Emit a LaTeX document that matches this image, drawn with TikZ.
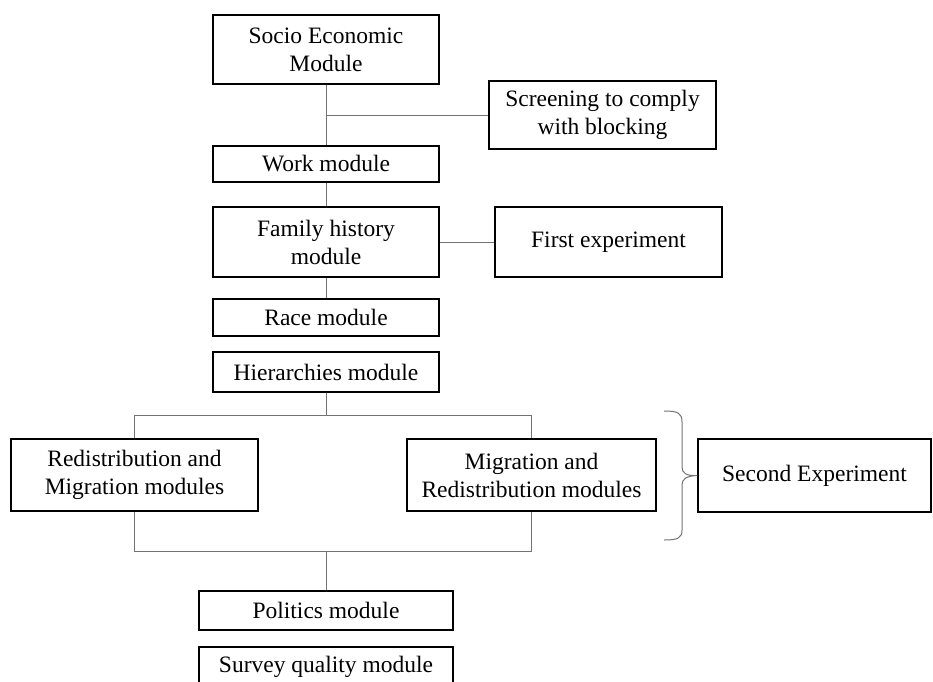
\documentclass[tikz,border=0pt]{standalone}
\usepackage{fontspec}
\setmainfont{Liberation Serif}
\begin{document}
\begin{tikzpicture}[x=1pt,y=-1pt,
  box/.style={draw=black,line width=1.4pt,align=center,inner sep=0pt,
    font=\fontsize{23.5}{28}\selectfont},
  link/.style={draw=black!55,line width=1pt}]
\useasboundingbox (0,0) rectangle (933,681);
\clip (0,0) rectangle (933,681);
\node[box,minimum width=226pt,minimum height=69pt] (socio) at (326,49.5) {Socio Economic\\Module};
\node[box,minimum width=227pt,minimum height=68pt] (screen) at (602.5,115) {Screening to comply\\with blocking};
\node[box,minimum width=226pt,minimum height=36pt] (work) at (326,164) {Work module};
\node[box,minimum width=226pt,minimum height=70pt] (family) at (326,242) {Family history\\module};
\node[box,minimum width=227pt,minimum height=70pt] (first) at (608.5,242) {First experiment};
\node[box,minimum width=226pt,minimum height=37pt] (race) at (326,317.5) {Race module};
\node[box,minimum width=226pt,minimum height=40pt] (hier) at (326,372) {Hierarchies module};
\node[box,minimum width=247pt,minimum height=72pt] (left) at (134.5,475) {Redistribution and\\Migration modules};
\node[box,minimum width=249pt,minimum height=72pt] (right) at (531.5,475) {Migration and\\Redistribution modules};
\node[box,minimum width=233pt,minimum height=73pt] (second) at (814.5,475.5) {Second Experiment};
\node[box,minimum width=254pt,minimum height=39pt] (politics) at (326,610.5) {Politics module};
\node[box,minimum width=254pt,minimum height=40pt] (survey) at (326,667) {Survey quality module};

\coordinate (jtop) at (326,415);
\coordinate (jbot) at (326,551);

\draw[link] (socio.south) -- (work.north);
\draw[link] (socio.south |- screen.west) -- (screen.west);
\draw[link] (work.south) -- (family.north);
\draw[link] (family.east) -- (first.west);
\draw[link] (family.south) -- (race.north);
\draw[link] (hier.south) -- (jtop);
\draw[link] (left.north) -- (left.north |- jtop) -- (right.north |- jtop) -- (right.north);
\draw[link] (left.south) -- (left.south |- jbot) -- (right.south |- jbot) -- (right.south);
\draw[link] (jbot) -- (politics.north);

\draw[link] (664,411) .. controls (678,411) and (682,413) .. (682,422) -- (682,467)
  .. controls (682,473) and (686,476) .. (second.west)
  .. controls (686,476) and (682,479) .. (682,485) -- (682,530)
  .. controls (682,538) and (678,540) .. (664,540);
\end{tikzpicture}
\end{document}
